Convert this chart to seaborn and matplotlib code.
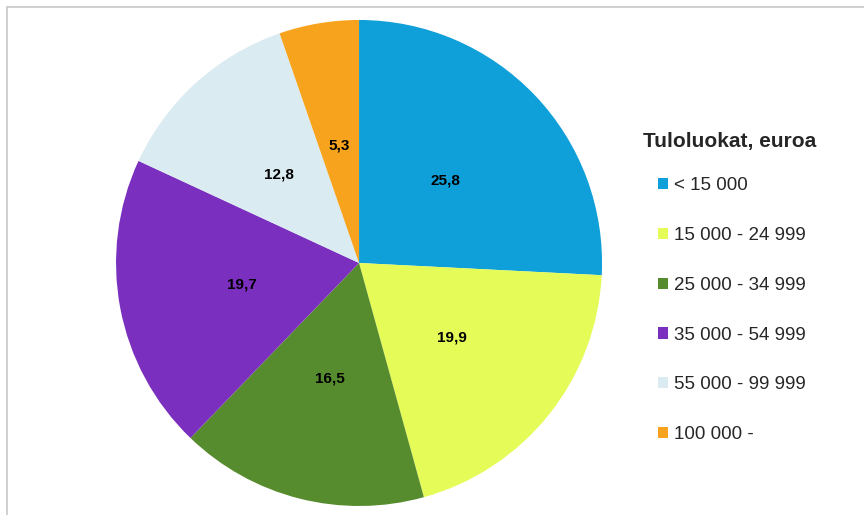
"""Income class pie chart (Tuloluokat, euroa)."""

import matplotlib.pyplot as plt
import seaborn as sns
from matplotlib.lines import Line2D
from matplotlib.patches import Patch

categories = [
    "< 15 000",
    "15 000 - 24 999",
    "25 000 - 34 999",
    "35 000 - 54 999",
    "55 000 - 99 999",
    "100 000 -",
]
shares = [25.8, 19.9, 16.5, 19.7, 12.8, 5.3]
colors = ["#0f9fd9", "#e5fb58", "#578c2e", "#7b2fbf", "#daebf2", "#f8a31d"]
legend_title = "Tuloluokat, euroa"


def main() -> None:
    sns.set_theme(style="white")
    plt.rcParams["font.family"] = ["Liberation Sans", "DejaVu Sans"]
    palette = sns.color_palette(colors)

    fig = plt.figure(figsize=(8.64, 5.15), dpi=100)
    ax = fig.add_axes([0.1343, 0.0175, 0.5625, 0.9437])

    wedges, _, autotexts = ax.pie(
        shares,
        colors=palette,
        startangle=90,
        counterclock=False,
        autopct=lambda p: f"{p:.1f}".replace(".", ","),
        pctdistance=0.49,
        wedgeprops={"linewidth": 0},
        textprops={"fontsize": 11, "fontweight": "bold", "color": "black"},
    )
    ax.set_xlim(-1, 1)
    ax.set_ylim(-1, 1)
    ax.set_aspect("equal")

    handles = [Patch(facecolor=c, edgecolor="none") for c in palette]
    fig.legend(
        handles,
        categories,
        loc="upper left",
        bbox_to_anchor=(0.7616, 0.656),
        frameon=False,
        fontsize=13.5,
        handlelength=0.55,
        handleheight=0.55,
        handletextpad=0.3,
        labelspacing=1.75,
        borderpad=0,
        borderaxespad=0,
    )
    fig.text(643 / 864, 1 - 142 / 515, legend_title, fontsize=15,
             fontweight="bold", va="center", ha="left")

    # thin grey frame on the left and top edges
    fig.add_artist(Line2D([7 / 864, 7 / 864], [0, 1 - 7 / 515],
                          color="#c8c8c8", lw=1.2, transform=fig.transFigure))
    fig.add_artist(Line2D([7 / 864, 1], [1 - 7 / 515, 1 - 7 / 515],
                          color="#c8c8c8", lw=1.2, transform=fig.transFigure))

    fig.savefig("out.png", dpi=100)
    plt.close(fig)


if __name__ == "__main__":
    main()
